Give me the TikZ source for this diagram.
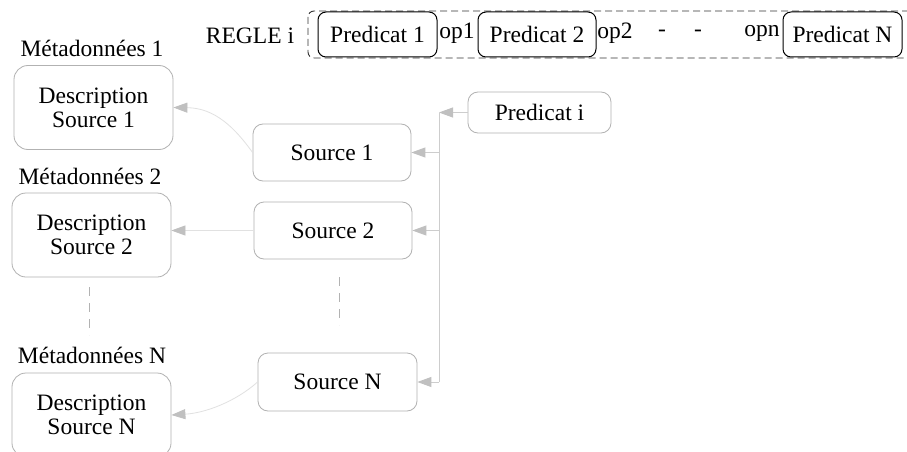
\documentclass[tikz,border=0pt]{standalone}
\usepackage{fontspec}
\setmainfont{Liberation Serif}
\usetikzlibrary{arrows.meta}
\definecolor{boxgray}{RGB}{178,178,178}
\definecolor{linegray}{RGB}{205,205,205}
\definecolor{lightline}{RGB}{225,225,225}
\definecolor{tipgray}{RGB}{192,192,192}
\begin{document}
\begin{tikzpicture}[x=1pt,y=-1pt,font=\fontsize{23.5}{24}\selectfont,
  pbox/.style={draw=black,line width=1pt,rounded corners=8pt,minimum width=119pt,minimum height=45pt,inner sep=0pt},
  sbox/.style={draw=boxgray,line width=0.8pt,rounded corners=10pt,minimum width=158pt,minimum height=57pt,inner sep=0pt},
  dbox/.style={draw=boxgray,line width=0.8pt,rounded corners=14pt,minimum width=159pt,minimum height=84pt,inner sep=0pt,align=center},
  lbl/.style={inner sep=0pt},
  tipstyle/.style={-{Triangle[length=14pt,width=10pt,color=tipgray]}},
  arr/.style={draw=linegray,line width=0.9pt,tipstyle},
  arrlight/.style={draw=lightline,line width=0.8pt,tipstyle},
  gdash/.style={draw=boxgray,line width=0.8pt,dash pattern=on 9pt off 7pt}]
\useasboundingbox (0,0) rectangle (907,452);
\fill[white] (0,0) rectangle (907,452);

% rule line
\node[lbl] (regle) at (250,36) {REGLE i};
\draw[black!80,line width=0.9pt,dash pattern=on 7pt off 4pt,rounded corners=6pt] (308,11) rectangle (915,58);
\node[pbox] (p1) at (377.5,34.5) {Predicat 1};
\node[lbl] (op1) at (457,33) {op1};
\node[pbox,minimum width=118pt] (p2) at (537,34.5) {Predicat 2};
\node[lbl] (op2) at (615,33) {op2};
\node[lbl] (dash1) at (662,33) {-};
\node[lbl] (dash2) at (698,33) {-};
\node[lbl] (opn) at (762,33) {opn};
\node[pbox] (pN) at (842.5,34.5) {Predicat N};

% metadata
\node[lbl] (m1) at (92,48) {Métadonnées 1};
\node[dbox] (d1) at (93.5,107.5) {Description\\Source 1};
\node[lbl] (m2) at (90,176) {Métadonnées 2};
\node[dbox] (d2) at (91.5,235) {Description\\Source 2};
\node[lbl] (mN) at (92,355) {Métadonnées N};
\node[dbox] (dN) at (91.5,415) {Description\\Source N};
\coordinate (ldA) at (89,287);
\coordinate (ldB) at (89,335);
\draw[gdash] (ldA) -- (ldB);

% sources
\node[sbox] (s1) at (332,152.5) {Source 1};
\node[sbox] (s2) at (333,230.5) {Source 2};
\node[sbox,minimum width=159pt,minimum height=58pt] (sN) at (337.5,382) {Source N};
\coordinate (sdA) at (339,277);
\coordinate (sdB) at (339,325);
\draw[gdash] (sdA) -- (sdB);

% predicat i
\node[sbox,minimum width=143pt,minimum height=41pt] (pi) at (539.5,112.5) {Predicat i};
\coordinate (top) at (439,112.5);
\draw[arr] (pi.west) -- (top);
\draw[draw=linegray,line width=0.9pt] (top) -- (top |- sN.east);
\draw[arr] (top |- s1.east) -- (s1.east);
\draw[arr] (top |- s2.east) -- (s2.east);
\draw[arr] (top |- sN.east) -- (sN.east);

% sources to descriptions
\draw[arrlight] (s1.west) .. controls (235,128) and (215,108) .. (d1.east);
\draw[arrlight] (s2.west) -- (d2.east |- s2.west);
\draw[arrlight] (sN.west) .. controls (235,402) and (205,413) .. (dN.east);
\end{tikzpicture}
\end{document}
